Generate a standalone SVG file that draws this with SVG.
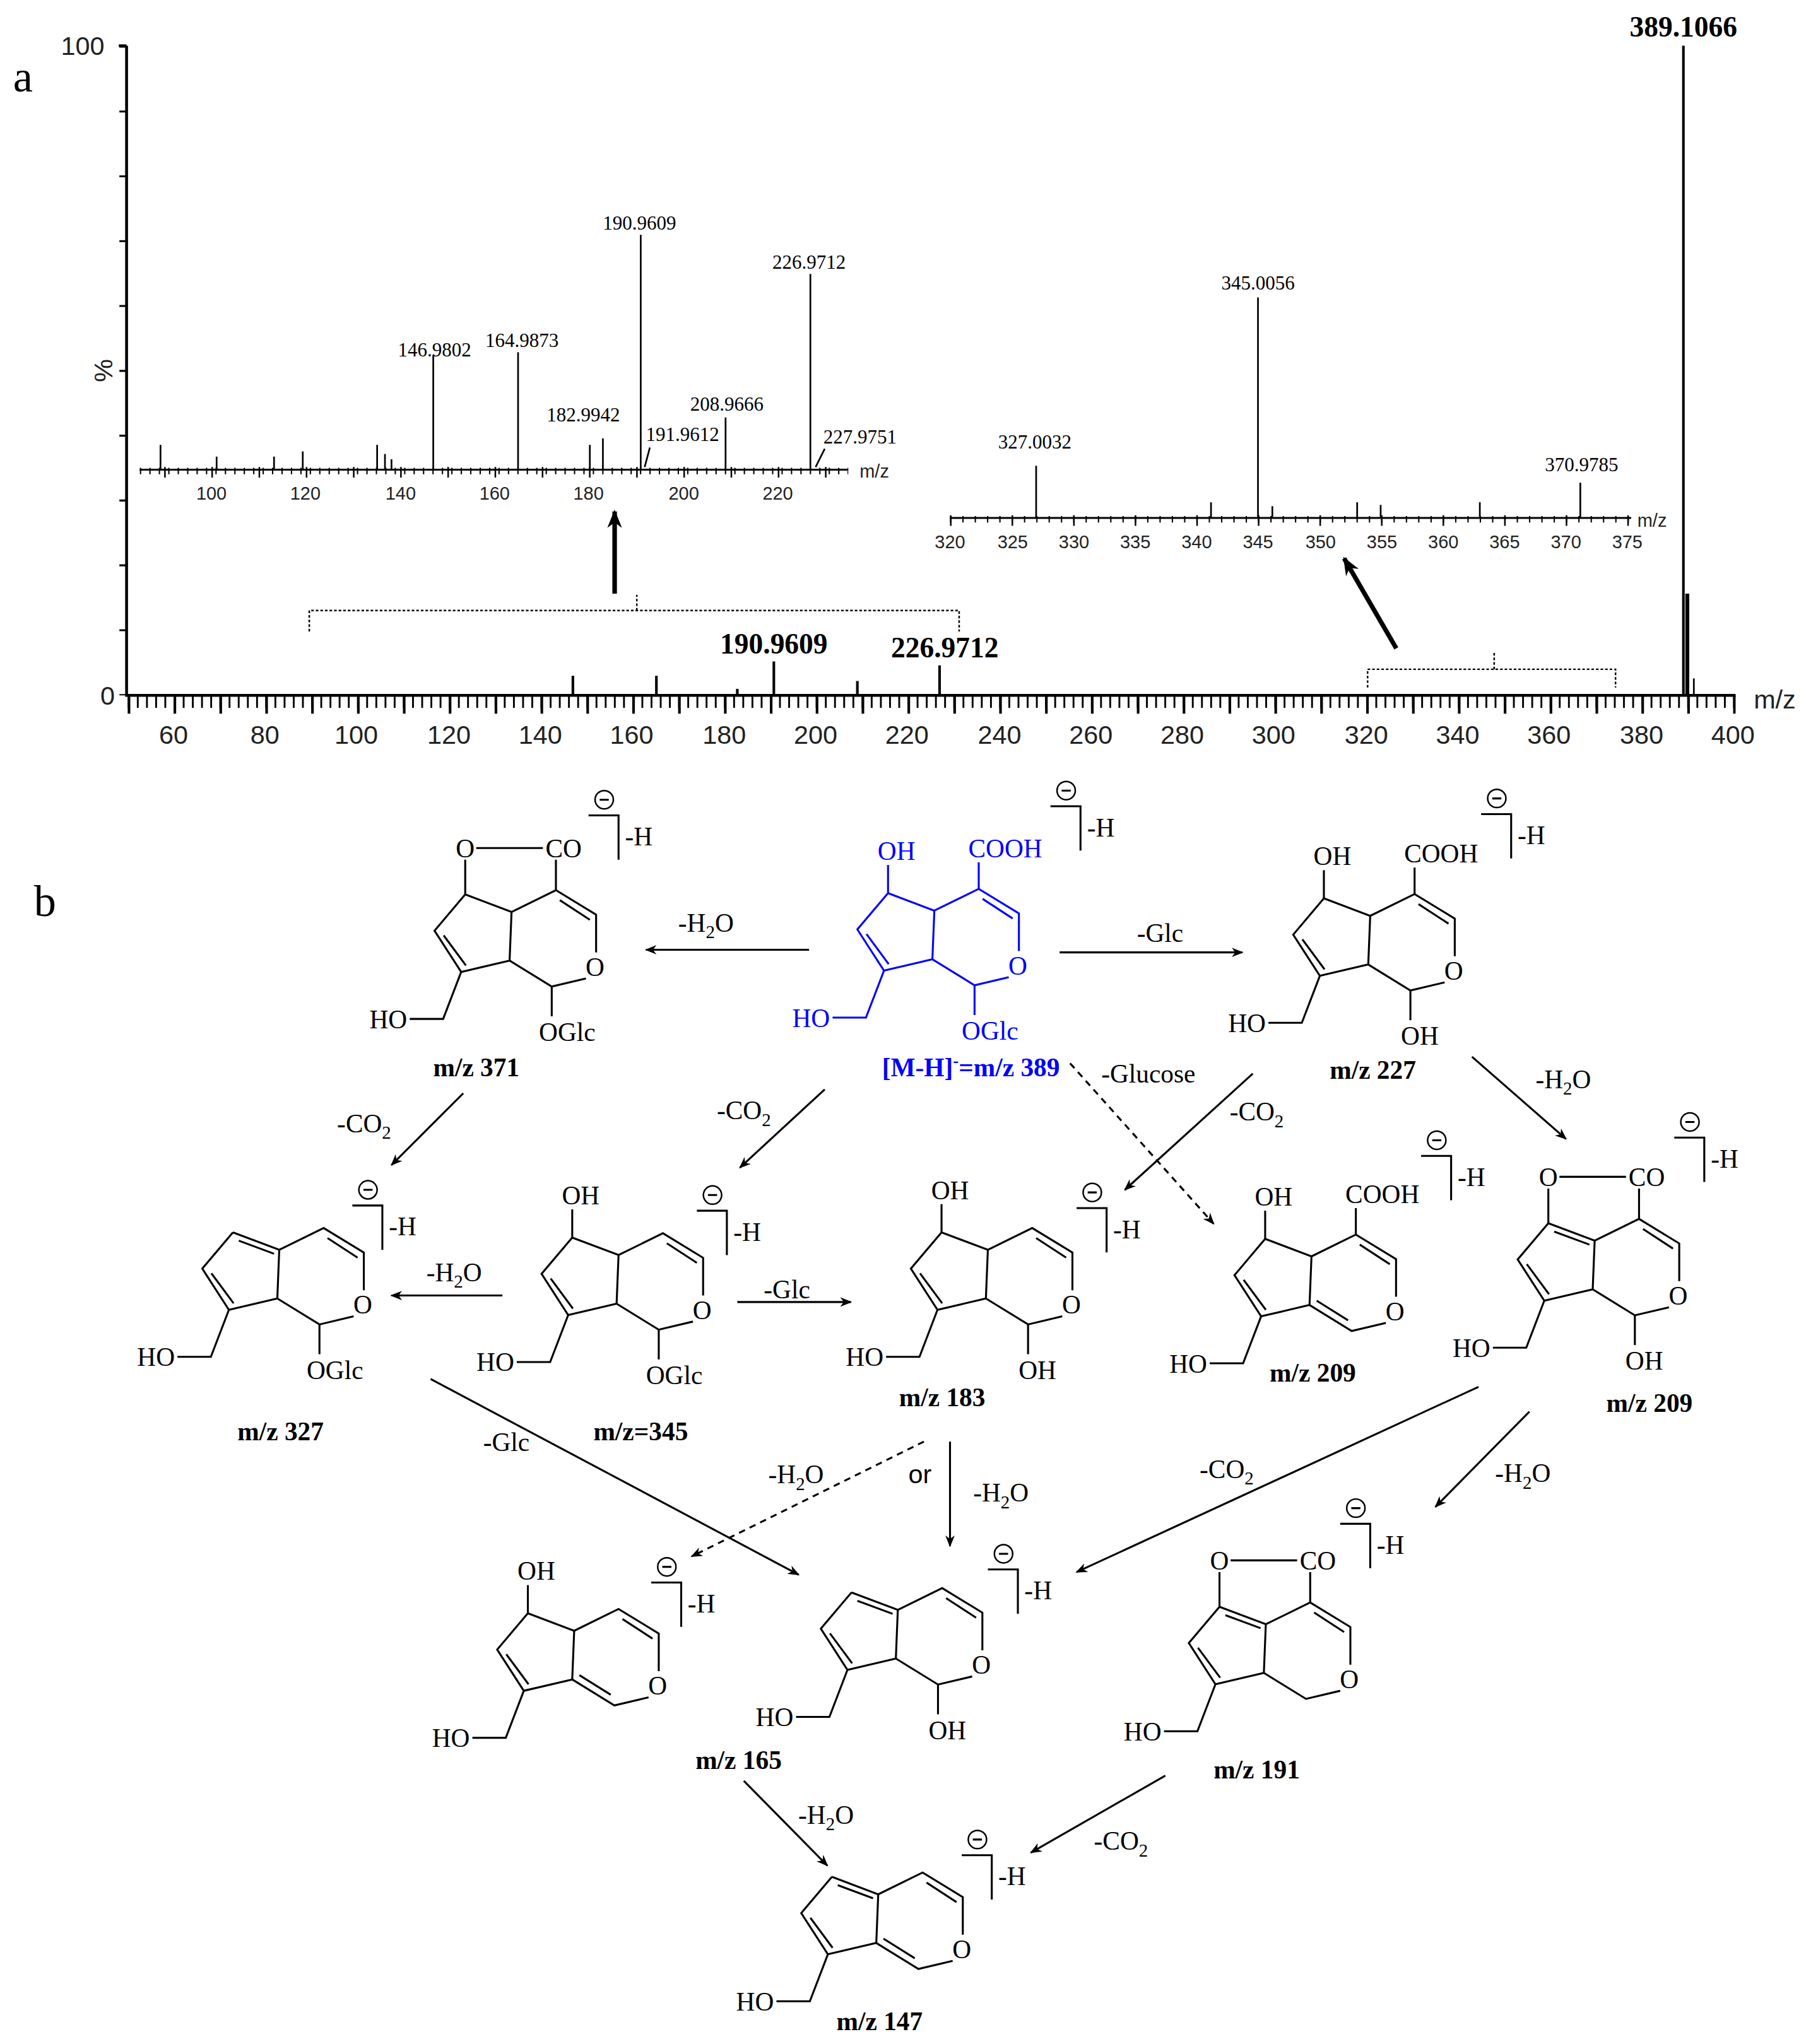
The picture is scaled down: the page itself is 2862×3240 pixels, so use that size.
<svg xmlns="http://www.w3.org/2000/svg" xmlns:xlink="http://www.w3.org/1999/xlink" width="2862" height="3240" viewBox="0 0 2862 3240">
<style>
.ax{stroke:#000;fill:none;stroke-width:2.2}
.pk{stroke:#000;stroke-width:1.3}
.tk{font-family:"Liberation Sans",Arial,sans-serif;font-size:20px;fill:#222;text-anchor:middle}
.tki{font-family:"Liberation Sans",Arial,sans-serif;font-size:14px;fill:#222;text-anchor:middle}
.pl{font-family:"Liberation Serif","Times New Roman",serif;font-size:15px;fill:#000;text-anchor:middle}
.pb{font-family:"Liberation Serif","Times New Roman",serif;font-size:22px;fill:#000;text-anchor:middle;font-weight:bold}
.lab{font-family:"Liberation Serif","Times New Roman",serif;font-size:20px;font-weight:bold;text-anchor:middle}
.rl{font-family:"Liberation Serif","Times New Roman",serif;font-size:20px;fill:#000;text-anchor:middle}
.br{stroke:#000;fill:none;stroke-width:1.2;stroke-dasharray:2 1.5}
.ar{stroke:#000;stroke-width:1.5;fill:none}
</style>
<defs>
<marker id="ah" viewBox="0 0 10 10" refX="9" refY="5" markerWidth="9" markerHeight="9" markerUnits="userSpaceOnUse" orient="auto"><path d="M0,1 L10,5 L0,9 L3,5 Z" fill="#000"/></marker>
<marker id="ahb" viewBox="0 0 10 10" refX="9" refY="5" markerWidth="14" markerHeight="14" markerUnits="userSpaceOnUse" orient="auto"><path d="M0,1 L10,5 L0,9 L3,5 Z" fill="#000"/></marker>
<g id="base" font-family="'Liberation Serif','Times New Roman',serif" font-size="20"><path fill="none" stroke="currentColor" stroke-width="1.5" d="M-35.5,-13.4 L-59,14.4 L-38.6,46 L-1.5,37.3 L0,0 L-35.5,-13.4 M0,0 L34,-16.7 L64.8,2.1 L64.8,31 M57,51 L30.8,57.2 L-1.5,37.3 M-38.6,46 L-52.4,82 L-78,82"/><text fill="currentColor" x="64" y="49" text-anchor="middle">O</text><text fill="currentColor" x="-80" y="89" text-anchor="end">HO</text></g>
<path id="d65" fill="none" stroke="currentColor" stroke-width="1.5" d="M-52,18 L-35,41"/>
<path id="d43" fill="none" stroke="currentColor" stroke-width="1.5" d="M37,-9 L60,6"/>
<path id="d79" fill="none" stroke="currentColor" stroke-width="1.5" d="M-31,-7 L-4,3"/>
<path id="d11" fill="none" stroke="currentColor" stroke-width="1.5" d="M4,34 L28,49"/>
<g id="oh7" font-family="'Liberation Serif','Times New Roman',serif" font-size="20"><path fill="none" stroke="currentColor" stroke-width="1.5" d="M-35.5,-13.4 L-35.5,-35"/><text fill="currentColor" x="-29" y="-39" text-anchor="middle">OH</text></g>
<g id="cooh" font-family="'Liberation Serif','Times New Roman',serif" font-size="20"><path fill="none" stroke="currentColor" stroke-width="1.5" d="M34,-16.7 L34,-37"/><text fill="currentColor" x="26" y="-41">COOH</text></g>
<g id="lac" font-family="'Liberation Serif','Times New Roman',serif" font-size="20"><path fill="none" stroke="currentColor" stroke-width="1.5" d="M-35.5,-13.4 L-35.5,-40 M34,-16.7 L34,-40 M-27,-49 L24,-49"/><text fill="currentColor" x="-35.5" y="-42" text-anchor="middle">O</text><text fill="currentColor" x="26" y="-42">CO</text></g>
<g id="oglc" font-family="'Liberation Serif','Times New Roman',serif" font-size="20"><path fill="none" stroke="currentColor" stroke-width="1.5" d="M30.8,57.2 L30.8,80"/><text fill="currentColor" x="21" y="99">OGlc</text></g>
<g id="oh1" font-family="'Liberation Serif','Times New Roman',serif" font-size="20"><path fill="none" stroke="currentColor" stroke-width="1.5" d="M30.8,57.2 L30.8,80"/><text fill="currentColor" x="38" y="99" text-anchor="middle">OH</text></g>
<g id="chg" font-family="'Liberation Serif','Times New Roman',serif" font-size="20"><circle cx="-11" cy="-12" r="7" fill="none" stroke="#000" stroke-width="1.2"/><path d="M-14.5,-12 L-7.5,-12 M-23,0 L0,0 L0,34" stroke="#000" stroke-width="1.5" fill="none"/><text x="5" y="23" fill="#000">-H</text></g>
</defs>
<rect width="2862" height="3240" fill="#fff"/>
<g transform="scale(2.068)">
<g id="spectrum">
<text x="10" y="70" style="font-family:'Liberation Serif',serif;font-size:34px">a</text>
<path class="ax" d="M97,35 L97,533 L1330,533"/>
<line x1="91" y1="35" x2="97" y2="35" stroke="#000" stroke-width="2"/>
<line x1="94" y1="35" x2="94" y2="533" stroke="#000" stroke-width="5" stroke-dasharray="1.5 48.2"/>
<line x1="97.85" y1="538" x2="1330" y2="538" stroke="#000" stroke-width="9" stroke-dasharray="1.4 5.63"/>
<line x1="97.85" y1="540" x2="1330" y2="540" stroke="#000" stroke-width="14" stroke-dasharray="2 33.15"/>
<text x="80" y="42" class="tk" style="text-anchor:end">100</text>
<text x="88" y="540" class="tk" style="text-anchor:end">0</text>
<text x="80" y="290" class="tk" transform="rotate(-90 80 284)">%</text>
<g class="tk">
<text x="133" y="570">60</text><text x="203" y="570">80</text><text x="273" y="570">100</text><text x="344" y="570">120</text><text x="414" y="570">140</text><text x="484" y="570">160</text><text x="555" y="570">180</text><text x="625" y="570">200</text><text x="695" y="570">220</text><text x="766" y="570">240</text><text x="836" y="570">260</text><text x="906" y="570">280</text><text x="976" y="570">300</text><text x="1047" y="570">320</text><text x="1117" y="570">340</text><text x="1187" y="570">360</text><text x="1258" y="570">380</text><text x="1328" y="570">400</text>
</g>
<text x="1360" y="543" class="tk">m/z</text>
<line x1="1290" y1="35" x2="1290" y2="533" stroke="#000" stroke-width="2"/>
<line x1="1293" y1="455" x2="1293" y2="533" stroke="#000" stroke-width="3"/>
<line x1="1298" y1="520" x2="1298" y2="533" class="pk"/>
<g stroke="#000" stroke-width="2">
<line x1="439" y1="518" x2="439" y2="533"/><line x1="503" y1="518" x2="503" y2="533"/><line x1="565" y1="528" x2="565" y2="533"/><line x1="593" y1="507" x2="593" y2="533"/><line x1="657" y1="522" x2="657" y2="533"/><line x1="720" y1="510" x2="720" y2="533"/>
</g>
<text x="593" y="501" class="pb">190.9609</text>
<text x="724" y="504" class="pb">226.9712</text>
<text x="1290" y="28" class="pb">389.1066</text>
<path class="br" d="M237,484 L237,468 L735,468 L735,484 M488,468 L488,456"/>
<path class="br" d="M1048,527 L1048,513 L1238,513 L1238,527 M1145,513 L1145,500"/>
<line x1="471" y1="455" x2="471" y2="392" stroke="#000" stroke-width="3.5" marker-end="url(#ahb)"/>
<line x1="1070" y1="497" x2="1030" y2="428" stroke="#000" stroke-width="3.5" marker-end="url(#ahb)"/>
<line x1="107" y1="360" x2="650" y2="360" stroke="#000" stroke-width="1.5"/>
<line x1="107.2" y1="361" x2="650" y2="361" stroke="#000" stroke-width="5" stroke-dasharray="1 6.23"/>
<line x1="125.8" y1="362" x2="650" y2="362" stroke="#000" stroke-width="8" stroke-dasharray="1.2 34.97"/>
<g class="tki"><text x="162" y="383">100</text><text x="234" y="383">120</text><text x="307" y="383">140</text><text x="379" y="383">160</text><text x="451" y="383">180</text><text x="524" y="383">200</text><text x="596" y="383">220</text></g>
<text x="670" y="366" class="tki">m/z</text>
<g class="pk">
<line x1="123" y1="341" x2="123" y2="360"/><line x1="166" y1="350" x2="166" y2="360"/><line x1="210" y1="350" x2="210" y2="360"/><line x1="232" y1="346" x2="232" y2="360"/><line x1="289" y1="341" x2="289" y2="360"/><line x1="295" y1="348" x2="295" y2="360"/><line x1="300" y1="352" x2="300" y2="360"/>
<line x1="332" y1="272" x2="332" y2="360"/><line x1="397" y1="270" x2="397" y2="360"/><line x1="452" y1="341" x2="452" y2="360"/><line x1="462" y1="336" x2="462" y2="360"/><line x1="491" y1="180" x2="491" y2="360"/><line x1="556" y1="320" x2="556" y2="360"/><line x1="621" y1="210" x2="621" y2="360"/>
<path d="M494,358 L498,343" fill="none"/><path d="M625,358 L632,344" fill="none"/>
</g>
<g class="pl">
<text x="333" y="273">146.9802</text><text x="400" y="266">164.9873</text><text x="447" y="323">182.9942</text><text x="490" y="176">190.9609</text><text x="523" y="338">191.9612</text><text x="557" y="315">208.9666</text><text x="620" y="206">226.9712</text><text x="659" y="340">227.9751</text>
</g>
<line x1="728" y1="397" x2="1250" y2="397" stroke="#000" stroke-width="1.5"/>
<line x1="728" y1="398" x2="1250" y2="398" stroke="#000" stroke-width="5" stroke-dasharray="1 8.44"/>
<line x1="728" y1="399" x2="1250" y2="399" stroke="#000" stroke-width="8" stroke-dasharray="1.2 45.98"/>
<g class="tki"><text x="728" y="420">320</text><text x="776" y="420">325</text><text x="823" y="420">330</text><text x="870" y="420">335</text><text x="917" y="420">340</text><text x="964" y="420">345</text><text x="1012" y="420">350</text><text x="1059" y="420">355</text><text x="1106" y="420">360</text><text x="1153" y="420">365</text><text x="1200" y="420">370</text><text x="1247" y="420">375</text></g>
<text x="1266" y="404" class="tki">m/z</text>
<g class="pk">
<line x1="794" y1="357" x2="794" y2="397"/><line x1="964" y1="228" x2="964" y2="397"/><line x1="1211" y1="370" x2="1211" y2="397"/><line x1="928" y1="385" x2="928" y2="397"/><line x1="975" y1="388" x2="975" y2="397"/><line x1="1040" y1="385" x2="1040" y2="397"/><line x1="1058" y1="387" x2="1058" y2="397"/><line x1="1134" y1="385" x2="1134" y2="397"/>
</g>
<g class="pl"><text x="793" y="344">327.0032</text><text x="964" y="222">345.0056</text><text x="1212" y="361">370.9785</text></g>
</g>
<text x="26" y="702" style="font-family:'Liberation Serif',serif;font-size:34px">b</text>
<g id="m389" style="color:#0000ff" transform="translate(716,698)"><use href="#base"/><use href="#d65"/><use href="#d43"/><use href="#oh7"/><use href="#cooh"/><use href="#oglc"/></g>
<g id="m371" style="color:#000" transform="translate(392,699)"><use href="#base"/><use href="#d65"/><use href="#d43"/><use href="#lac"/><use href="#oglc"/></g>
<g id="m227" style="color:#000" transform="translate(1050,702)"><use href="#base"/><use href="#d65"/><use href="#d43"/><use href="#oh7"/><use href="#cooh"/><use href="#oh1"/></g>
<g id="m327" style="color:#000" transform="translate(214,958)"><use href="#base"/><use href="#d79"/><use href="#d65"/><use href="#d43"/><use href="#oglc"/></g>
<g id="m345" style="color:#000" transform="translate(474,962)"><use href="#base"/><use href="#d65"/><use href="#d43"/><use href="#oh7"/><use href="#oglc"/></g>
<g id="m183" style="color:#000" transform="translate(757,958)"><use href="#base"/><use href="#d65"/><use href="#d43"/><use href="#oh7"/><use href="#oh1"/></g>
<g id="m209a" style="color:#000" transform="translate(1005,963)"><use href="#base"/><use href="#d65"/><use href="#d43"/><use href="#d11"/><use href="#oh7"/><use href="#cooh"/></g>
<g id="m209b" style="color:#000" transform="translate(1222,951)"><use href="#base"/><use href="#d79"/><use href="#d65"/><use href="#d43"/><use href="#lac"/><use href="#oh1"/></g>
<g id="m165a" style="color:#000" transform="translate(440,1250)"><use href="#base"/><use href="#d65"/><use href="#d43"/><use href="#d11"/><use href="#oh7"/></g>
<g id="m165b" style="color:#000" transform="translate(688,1234)"><use href="#base"/><use href="#d79"/><use href="#d65"/><use href="#d43"/><use href="#oh1"/></g>
<g id="m191" style="color:#000" transform="translate(970,1245)"><use href="#base"/><use href="#d79"/><use href="#d65"/><use href="#d43"/><use href="#lac"/></g>
<g id="m147" style="color:#000" transform="translate(673,1452)"><use href="#base"/><use href="#d79"/><use href="#d65"/><use href="#d43"/><use href="#d11"/></g>
<g id="charges">
<use href="#chg" x="828" y="618"/><use href="#chg" x="474" y="625"/><use href="#chg" x="1158" y="624"/><use href="#chg" x="293" y="924"/><use href="#chg" x="557" y="928"/><use href="#chg" x="848" y="926"/><use href="#chg" x="1112" y="886"/><use href="#chg" x="1306" y="872"/><use href="#chg" x="522" y="1213"/><use href="#chg" x="780" y="1203"/><use href="#chg" x="1050" y="1168"/><use href="#chg" x="760" y="1422"/>
</g>
<g id="labels">
<text class="lab" x="365" y="825">m/z 371</text>
<text class="lab" x="744" y="825" fill="#0000ff">[M-H]<tspan font-size="13" dy="-8">-</tspan><tspan dy="8">=m/z 389</tspan></text>
<text class="lab" x="1052" y="827">m/z 227</text>
<text class="lab" x="215" y="1104">m/z 327</text>
<text class="lab" x="491" y="1104">m/z=345</text>
<text class="lab" x="722" y="1078">m/z 183</text>
<text class="lab" x="1006" y="1059">m/z 209</text>
<text class="lab" x="1264" y="1082">m/z 209</text>
<text class="lab" x="566" y="1356">m/z 165</text>
<text class="lab" x="963" y="1363">m/z 191</text>
<text class="lab" x="674" y="1556">m/z 147</text>
</g>
<g id="connectors">
<line class="ar" x1="620" y1="728" x2="495" y2="728" marker-end="url(#ah)"/>
<line class="ar" x1="812" y1="730" x2="952" y2="730" marker-end="url(#ah)"/>
<line class="ar" x1="355" y1="838" x2="300" y2="893" marker-end="url(#ah)"/>
<line class="ar" x1="632" y1="835" x2="567" y2="895" marker-end="url(#ah)"/>
<line class="ar" x1="820" y1="815" x2="930" y2="938" stroke-dasharray="5 4" marker-end="url(#ah)"/>
<line class="ar" x1="960" y1="823" x2="862" y2="912" marker-end="url(#ah)"/>
<line class="ar" x1="1128" y1="810" x2="1200" y2="873" marker-end="url(#ah)"/>
<line class="ar" x1="385" y1="993" x2="300" y2="993" marker-end="url(#ah)"/>
<line class="ar" x1="565" y1="998" x2="652" y2="998" marker-end="url(#ah)"/>
<line class="ar" x1="330" y1="1057" x2="612" y2="1207" marker-end="url(#ah)"/>
<line class="ar" x1="708" y1="1105" x2="530" y2="1193" stroke-dasharray="5 4" marker-end="url(#ah)"/>
<line class="ar" x1="728" y1="1105" x2="728" y2="1185" marker-end="url(#ah)"/>
<line class="ar" x1="1133" y1="1063" x2="825" y2="1205" marker-end="url(#ah)"/>
<line class="ar" x1="1172" y1="1082" x2="1100" y2="1155" marker-end="url(#ah)"/>
<line class="ar" x1="570" y1="1365" x2="634" y2="1430" marker-end="url(#ah)"/>
<line class="ar" x1="893" y1="1361" x2="790" y2="1420" marker-end="url(#ah)"/>
<g class="rl">
<text x="541" y="714">-H<tspan font-size="14" dy="5">2</tspan><tspan dy="-5">O</tspan></text>
<text x="889" y="722">-Glc</text>
<text x="279" y="868">-CO<tspan font-size="14" dy="5">2</tspan></text>
<text x="570" y="858">-CO<tspan font-size="14" dy="5">2</tspan></text>
<text x="880" y="830">-Glucose</text>
<text x="963" y="859">-CO<tspan font-size="14" dy="5">2</tspan></text>
<text x="1198" y="834">-H<tspan font-size="14" dy="5">2</tspan><tspan dy="-5">O</tspan></text>
<text x="348" y="982">-H<tspan font-size="14" dy="5">2</tspan><tspan dy="-5">O</tspan></text>
<text x="603" y="995">-Glc</text>
<text x="388" y="1112">-Glc</text>
<text x="610" y="1137">-H<tspan font-size="14" dy="5">2</tspan><tspan dy="-5">O</tspan></text>
<text x="705" y="1137" style="font-family:'Liberation Sans',sans-serif">or</text>
<text x="767" y="1151">-H<tspan font-size="14" dy="5">2</tspan><tspan dy="-5">O</tspan></text>
<text x="940" y="1133">-CO<tspan font-size="14" dy="5">2</tspan></text>
<text x="1167" y="1136">-H<tspan font-size="14" dy="5">2</tspan><tspan dy="-5">O</tspan></text>
<text x="633" y="1398">-H<tspan font-size="14" dy="5">2</tspan><tspan dy="-5">O</tspan></text>
<text x="859" y="1418">-CO<tspan font-size="14" dy="5">2</tspan></text>
</g>
</g>
</g>
</svg>
